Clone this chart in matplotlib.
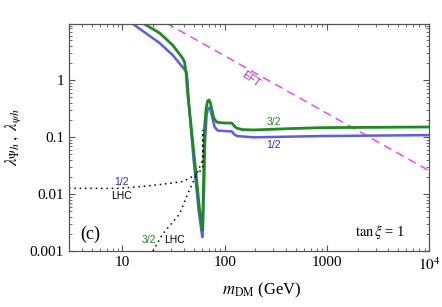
import numpy as np
import matplotlib
matplotlib.use('Agg')
import matplotlib.pyplot as plt
from matplotlib.ticker import FixedLocator, FixedFormatter, LogLocator, NullFormatter

plt.rcParams['font.family'] = ['Liberation Serif', 'DejaVu Serif']
plt.rcParams['mathtext.fontset'] = 'stix'

# spin-1/2 relic curve (GeV, coupling)
m_half = [12.25, 23.05, 30.9, 38.7, 42.4, 43.4, 44.4, 46.9, 49.7, 55.6, 60.4,
          61.3, 62.2, 62.9, 63.6, 64.4, 66.6, 68.6, 70.5, 72.6, 74.6, 79.8, 85.4,
          102, 117, 119, 125, 133, 192, 873, 10000]
lam_half = [10, 4.46, 2.75, 1.69, 1.38, 0.92, 0.446, 0.133, 0.0395, 0.00525, 0.00176,
            0.0024, 0.00785, 0.0117, 0.0395, 0.0886, 0.243, 0.31, 0.327, 0.304, 0.243, 0.15, 0.13,
            0.127, 0.126, 0.122, 0.11, 0.104, 0.0988, 0.104, 0.108]

# spin-3/2 relic curve
m_32 = [15.7, 23.05, 30.9, 38.7, 40.5, 42.0, 43.4, 45.4, 47.5, 50.8, 53.8, 56.9, 60.4,
        61.0, 62.2, 62.9, 63.6, 65.9, 68.1, 70.2, 72.1, 73.7, 78.0, 83.5,
        91.4, 102, 116.4, 119, 125, 133, 150, 192, 415, 873, 3000, 10000]
lam_32 = [10, 6.68, 4.11, 2.43, 2.07, 1.3, 0.59, 0.275, 0.127, 0.0395, 0.0144, 0.00525, 0.00233,
          0.0035, 0.0176, 0.059, 0.15, 0.323, 0.428, 0.446, 0.411, 0.35, 0.216, 0.183,
          0.178, 0.176, 0.176, 0.172, 0.153, 0.142, 0.135, 0.133, 0.14, 0.146, 0.148, 0.150]

# EFT line
m_eft = [26.8, 10000]
lam_eft = [10, 0.0256]

# LHC (Higgs invisible) bounds
m_lhc_half = [3, 9.4, 18.4, 32.4, 38.9, 45.4, 53.2, 56.9, 61.3, 61.3]
lam_lhc_half = [0.0126, 0.0126, 0.0140, 0.0158, 0.0167, 0.019, 0.0225, 0.0246, 0.03, 0.133]
m_lhc_32 = [19.9, 24.7, 36.2, 43.7, 52.8, 59.0, 61.3, 61.3]
lam_lhc_32 = [0.001, 0.00199, 0.00446, 0.0103, 0.0216, 0.0346, 0.04, 0.133]

xticks = [10, 100, 1000, 10000]
xlabels = ['10', '100', '1000', r'$10^4$']
yticks = [0.001, 0.01, 0.1, 1]
ylabels = ['0.001', '0.01', '0.1', '1']

fig = plt.figure(figsize=(4.42, 3.07), dpi=100)
ax = fig.add_axes([0.156, 0.182, 0.815, 0.740])

blue = '#5a5aff'
green = '#1c8c1c'
magenta = '#ff33ff'

ax.plot(m_eft, lam_eft, color=magenta, lw=1.0, dashes=(6, 4))
ax.plot(m_half, lam_half, color=blue, lw=1.8)
ax.plot(m_32, lam_32, color=green, lw=2.0)
ax.plot(m_lhc_half, lam_lhc_half, color='black', lw=1.1, ls=(0, (1, 2.5)))
ax.plot(m_lhc_32, lam_lhc_32, color='black', lw=1.1, ls=(0, (1, 2.5)))

ax.set_xscale('log')
ax.set_yscale('log')
ax.set_xlim(3, 10000)
ax.set_ylim(0.001, 9.6)

ax.xaxis.set_major_locator(FixedLocator(xticks))
ax.xaxis.set_major_formatter(FixedFormatter(xlabels))
ax.xaxis.set_minor_locator(LogLocator(base=10, subs=np.arange(2, 10)))
ax.xaxis.set_minor_formatter(NullFormatter())
ax.yaxis.set_major_locator(FixedLocator(yticks))
ax.yaxis.set_major_formatter(FixedFormatter(ylabels))
ax.yaxis.set_minor_locator(LogLocator(base=10, subs=np.arange(2, 10)))
ax.yaxis.set_minor_formatter(NullFormatter())

ax.tick_params(which='both', direction='in', top=True, right=True, colors='#555555',
               labelcolor='black', labelsize=11)
ax.tick_params(which='major', length=4, width=0.8)
ax.tick_params(which='minor', length=2, width=0.6)
for s in ax.spines.values():
    s.set_color('#555555')
    s.set_linewidth(0.9)

sans = ['Liberation Sans', 'DejaVu Sans']
ax.text(9.8, 0.0163, '1/2', color='#2828f0', fontsize=7.5, family=sans, ha='center', va='center')
ax.text(9.8, 0.0092, 'LHC', color='black', fontsize=7.5, family=sans, ha='center', va='center')
ax.text(18.2, 0.00156, '3/2', color=green, fontsize=7.5, family=sans, ha='center', va='center')
ax.text(32, 0.00156, 'LHC', color='black', fontsize=7.5, family=sans, ha='center', va='center')
ax.text(302, 0.18, '3/2', color=green, fontsize=7.5, family=sans, ha='center', va='center')
ax.text(302, 0.072, '1/2', color='#2828f0', fontsize=7.5, family=sans, ha='center', va='center')
ax.text(180, 1.02, 'EFT', color='#c020c8', fontsize=7.5, family=sans, ha='center', va='center',
        rotation=-35)
ax.text(4.86, 0.002, '(c)', fontsize=13, ha='center', va='center')
ax.text(0.864, 0.084, r'$\tan\xi$ = 1', transform=ax.transAxes, fontsize=10.5,
        ha='center', va='center')

ax.set_xlabel(r'$m_{\mathrm{DM}}$ (GeV)', fontsize=12)
ax.xaxis.set_label_coords(0.536, -0.13)
ax.set_ylabel(r'$\lambda_{\Psi h}\,,\ \lambda_{\psi h}$', fontsize=12)
ax.yaxis.set_label_coords(-0.128, 0.5)

fig.savefig('out.png', dpi=100)
